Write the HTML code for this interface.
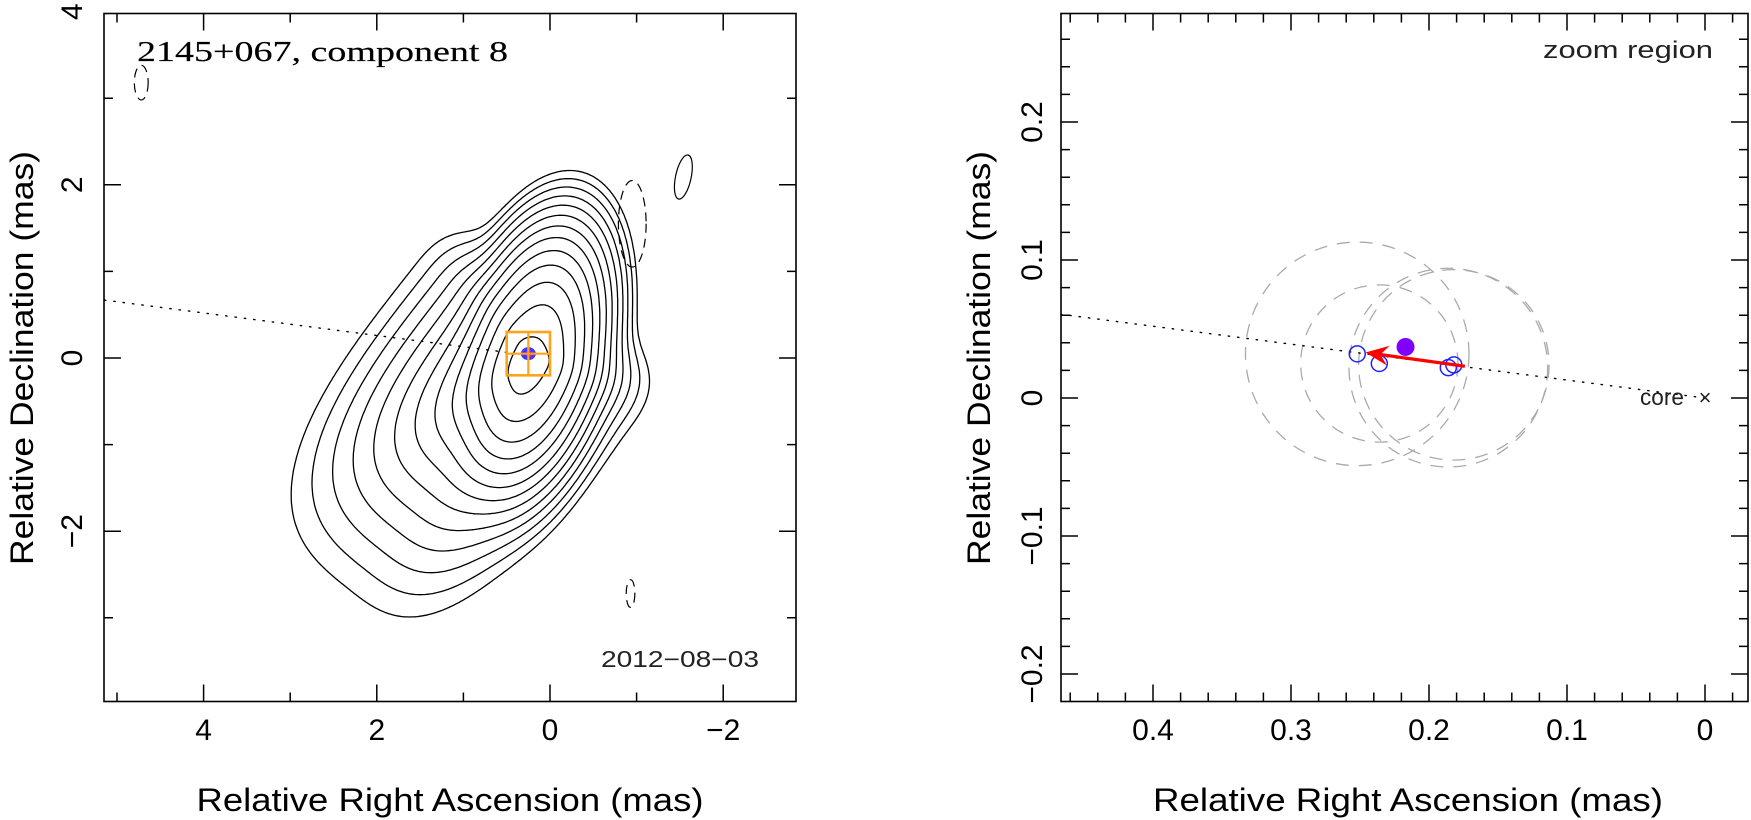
<!DOCTYPE html>
<html><head><meta charset="utf-8">
<style>
html,body{margin:0;padding:0;background:#fff;}
svg{display:block;font-family:"Liberation Sans",sans-serif;}
</style></head>
<body>
<svg id="fig" width="1751" height="820" viewBox="0 0 1751 820" xmlns="http://www.w3.org/2000/svg">
<defs>
<clipPath id="clipL"><rect x="104" y="13.5" width="692" height="688"/></clipPath>
<clipPath id="clipR"><rect x="1061" y="13.5" width="687" height="688"/></clipPath>
</defs>
<g id="left"></g>
<g id="right"></g>
</svg>
<script>
// ---------- data ----------
const coreX = 0.21, coreY = -0.02;
const coreSigMajor = 0.55, coreSigMinor = 0.27;
const jetAmpLog = -0.25;
const jetDirX = 0.62, jetDirY = -0.785;
const jetScaleDown = 0.42, jetScaleUp = 0.12, jetScaleLeft = 0.215, jetScaleRight = 0.17;
const contourLevelsLog = [0,-0.69,-1.39,-2.08,-2.77,-3.47,-4.16,-4.85,-5.55,-6.24,-6.93,-7.62,-8.32];
const negX = [4.72, -0.95, -0.93];
const negY = [3.18, 1.55, -2.72];
const negRX = [0.08, 0.16, 0.05];
const negRY = [0.20, 0.50, 0.16];
const posX = [-1.54];
const posY = [2.09];
const posRX = [0.09];
const posRY = [0.26];
const boxCenterX = 0.25, boxCenterY = 0.05, boxHalf = 0.25;
const leftXTicks = [4,2,0,-2];
const leftXTickLabels = ["4","2","0","\u22122"];
const leftYTicks = [4,2,0,-2];
const leftYTickLabels = ["4","2","0","\u22122"];
// right panel
const compX = [0.252, 0.236, 0.186, 0.182];
const compY = [0.032, 0.025, 0.022, 0.024];
const compSize = [0.081, 0.057, 0.072, 0.069];
const meanX = [0.217], meanY = [0.037];
const arrowFromX = 0.174, arrowFromY = 0.023, arrowToX = 0.246, arrowToY = 0.033;
const paSlope = 0.13;
const rightXTicks = [0.4,0.3,0.2,0.1,0];
const rightXTickLabels = ["0.4","0.3","0.2","0.1","0"];
const rightYTicks = [0.2,0.1,0,-0.1,-0.2];
const rightYTickLabels = ["0.2","0.1","0","\u22120.1","\u22120.2"];

// ---------- helpers ----------
const NS = "http://www.w3.org/2000/svg";
function mk(tag, attrs, parent){
  const e = document.createElementNS(NS, tag);
  for (const k in attrs) e.setAttribute(k, attrs[k]);
  parent.appendChild(e); return e;
}
const L = {x0:104, x1:796, y0:13.5, y1:701.5, xc:550, yc:358, s:86.6};
const R = {x0:1061, x1:1748, y0:13.5, y1:701.5, xc:1705, yc:398, s:1380};
const lx = v => L.xc - v*L.s, ly = v => L.yc - v*L.s;
const rx = v => R.xc - v*R.s, ry = v => R.yc - v*R.s;

function frame(P, g, xmaj, xmin, ymaj, ymin, xf, yf, name){
  const r = mk('rect',{x:P.x0,y:P.y0,width:P.x1-P.x0,height:P.y1-P.y0,fill:'none',stroke:'#000','stroke-width':1.6},g);
  
  
  let d='';
  for (const [arr,len] of [[xmaj,17],[xmin,9]]) for (const v of arr){
    const X=xf(v); if (X<P.x0+1||X>P.x1-1) continue;
    d+=`M${X},${P.y1}v${-len}M${X},${P.y0}v${len}`;
  }
  for (const [arr,len] of [[ymaj,17],[ymin,9]]) for (const v of arr){
    const Y=yf(v); if (Y<P.y0+1||Y>P.y1-1) continue;
    d+=`M${P.x0},${Y}h${len}M${P.x1},${Y}h${-len}`;
  }
  const t=mk('path',{d:d,stroke:'#000','stroke-width':1.5,fill:'none'},g);
  
  
}
function range(a,b,s){const o=[];for(let v=a;v<=b+1e-9;v+=s)o.push(Math.round(v*1000)/1000);return o;}

// ---------- left panel ----------
const gl = document.getElementById('left');
const clipL = mk('g',{'clip-path':'url(#clipL)'},gl);
function field(x,y){
  const dx=x-coreX, dy=y-coreY;
  const m1x=-0.26, m1y=0.966, n1x=0.966, n1y=0.26;
  const s1=dx*m1x+dy*m1y, t1=dx*n1x+dy*n1y;
  const g1=0.5*((s1/coreSigMajor)**2+(t1/coreSigMinor)**2);
  const nX=-jetDirY, nY=jetDirX;
  const s2=dx*jetDirX+dy*jetDirY, t2=dx*nX+dy*nY;
  const sd = s2>0 ? s2/jetScaleDown : s2/jetScaleUp;
  const tt = t2>0 ? t2/jetScaleLeft : t2/jetScaleRight;
  const q2=Math.cbrt(Math.abs(sd)**3+Math.abs(tt)**3);
  return Math.exp(-g1)+Math.exp(jetAmpLog-q2);
}
(function contours(){
  const xa=-3.0, xb=5.3, ya=-4.1, yb=4.1, st=0.03;
  const nx=Math.round((xb-xa)/st)+1, ny=Math.round((yb-ya)/st)+1;
  const F=new Float64Array(nx*ny);
  for(let j=0;j<ny;j++)for(let i=0;i<nx;i++)F[j*nx+i]=field(xa+i*st,ya+j*st);
  contourLevelsLog.forEach((lg,k)=>{
    const lev=Math.exp(lg); let d='';
    for(let j=0;j<ny-1;j++)for(let i=0;i<nx-1;i++){
      const v0=F[j*nx+i],v1=F[j*nx+i+1],v2=F[(j+1)*nx+i+1],v3=F[(j+1)*nx+i];
      const x0=xa+i*st,y0=ya+j*st,pts=[];
      const ed=(va,vb,xa_,ya_,xb_,yb_)=>{ if((va<lev)!==(vb<lev)){const t=(lev-va)/(vb-va);pts.push([xa_+(xb_-xa_)*t,ya_+(yb_-ya_)*t]);}};
      ed(v0,v1,x0,y0,x0+st,y0); ed(v1,v2,x0+st,y0,x0+st,y0+st);
      ed(v2,v3,x0+st,y0+st,x0,y0+st); ed(v3,v0,x0,y0+st,x0,y0);
      for(let p=0;p+1<pts.length;p+=2)
        d+=`M${lx(pts[p][0]).toFixed(1)},${ly(pts[p][1]).toFixed(1)}L${lx(pts[p+1][0]).toFixed(1)},${ly(pts[p+1][1]).toFixed(1)}`;
    }
    const c=mk('path',{d:d,fill:'none',stroke:'#000','stroke-width':1.3,'stroke-linecap':'round'},clipL);
    
    
  });
})();
negX.forEach((v,i)=>{
  const e=mk('ellipse',{cx:lx(v),cy:ly(negY[i]),rx:negRX[i]*L.s,ry:negRY[i]*L.s,fill:'none',stroke:'#000','stroke-width':1.2,'stroke-dasharray':'9 6'},clipL);
  
  
});
posX.forEach((v,i)=>{
  const e=mk('ellipse',{cx:lx(v),cy:ly(posY[i]),rx:posRX[i]*L.s,ry:posRY[i]*L.s,fill:'none',stroke:'#000','stroke-width':1.2,transform:`rotate(12 ${lx(v)} ${ly(posY[i])})`},clipL);
  
  
});
{
  const x2=5.3, x1=boxCenterX+boxHalf;
  const pl=mk('line',{x1:lx(x1),y1:ly(paSlope*x1),x2:lx(x2),y2:ly(paSlope*x2),stroke:'#000','stroke-width':1.4,'stroke-dasharray':'1.4 8','stroke-linecap':'round'},clipL);
  
  
}
{
  const cx=lx(boxCenterX), cy=ly(boxCenterY), h=boxHalf*L.s;
  const b1=mk('ellipse',{cx:cx,cy:cy,rx:7.5,ry:6.5,fill:'#3a3aff'},gl);
  
  
  mk('ellipse',{cx:cx+1,cy:cy,rx:4,ry:3.5,fill:'#a020f0'},gl);
  mk('circle',{cx:cx+2,cy:cy+1,r:1.8,fill:'#ff2020'},gl);
  const bx=mk('rect',{x:cx-h,y:cy-h,width:2*h,height:2*h,fill:'none',stroke:'#ffa31a','stroke-width':2.6},gl);
  
  
  const cr=mk('path',{d:`M${cx-h},${cy}H${cx+h}M${cx},${cy-h}V${cy+h}`,stroke:'#ffa31a','stroke-width':2.2},gl);
  
  
}
frame(L, gl, range(-4,6,2), range(-5,5,1), range(-4,4,2), range(-5,5,1), lx, ly, 'left');
leftXTicks.forEach((v,i)=>{
  const t=mk('text',{x:lx(v),y:740,'font-size':30,'text-anchor':'middle'},gl); t.textContent=leftXTickLabels[i];
  
  
});
leftYTicks.forEach((v,i)=>{
  const t=mk('text',{x:0,y:0,'font-size':30,'text-anchor':'middle',transform:`translate(82,${ly(v)}) rotate(-90)`},gl); t.textContent=leftYTickLabels[i];
  
  
});
{
  let t=mk('text',{x:450,y:811,'font-size':32,'text-anchor':'middle',textLength:507,lengthAdjust:'spacingAndGlyphs'},gl); t.textContent='Relative Right Ascension (mas)';
   
  t=mk('text',{x:0,y:0,'font-size':32,'text-anchor':'middle',textLength:414,lengthAdjust:'spacingAndGlyphs',transform:`translate(33,${L.yc}) rotate(-90)`},gl); t.textContent='Relative Declination (mas)';
   
  t=mk('text',{x:137,y:61,'font-size':28,'font-family':'Liberation Serif, serif',stroke:'#000','stroke-width':0.15,textLength:371,lengthAdjust:'spacingAndGlyphs'},gl); t.textContent='2145+067, component 8';
   
  t=mk('text',{x:601,y:667,'font-size':23,fill:'#222',textLength:158,lengthAdjust:'spacingAndGlyphs'},gl); t.textContent='2012\u221208\u221203';
   
}

// ---------- right panel ----------
const gr=document.getElementById('right');
const clipR=mk('g',{'clip-path':'url(#clipR)'},gr);
compX.forEach((v,i)=>{
  const c=mk('circle',{cx:rx(v),cy:ry(compY[i]),r:compSize[i]*R.s,fill:'none',stroke:'#aaa','stroke-width':1.3,'stroke-dasharray':'13 10'},clipR);
  
  
});
{
  const pl=mk('line',{x1:rx(0),y1:ry(0),x2:rx(0.5),y2:ry(paSlope*0.5),stroke:'#000','stroke-width':1.4,'stroke-dasharray':'1.4 8','stroke-linecap':'round'},clipR);
  
  
}
compX.forEach((v,i)=>{
  const c=mk('circle',{cx:rx(v),cy:ry(compY[i]),r:8,fill:'none',stroke:'#2222ff','stroke-width':1.5},gr);
  
  
});
meanX.forEach((v,i)=>{
  const c=mk('circle',{cx:rx(v),cy:ry(meanY[i]),r:9,fill:'#8000ff'},gr);
  
  
});
{
  const x1=rx(arrowFromX),y1=ry(arrowFromY),x2=rx(arrowToX),y2=ry(arrowToY);
  const dx=x2-x1,dy=y2-y1,l=Math.hypot(dx,dy),ux=dx/l,uy=dy/l,px=-uy,py=ux;
  const a=mk('line',{x1:x1,y1:y1,x2:x2-ux*10,y2:y2-uy*10,stroke:'#ff0000','stroke-width':3.2},gr);
  
  
  const bx=x2-ux*23,by=y2-uy*23;
  const h=mk('polygon',{points:`${x2},${y2} ${bx+px*10},${by+py*10} ${x2-ux*15},${y2-uy*15} ${bx-px*10},${by-py*10}`,fill:'#ff0000'},gr);
  
  
}
frame(R, gr, range(-0.1,0.5,0.1), range(-0.04,0.48,0.02), range(-0.3,0.3,0.1), range(-0.24,0.28,0.02), rx, ry, 'right');
rightXTicks.forEach((v,i)=>{
  const t=mk('text',{x:rx(v),y:740,'font-size':30,'text-anchor':'middle'},gr); t.textContent=rightXTickLabels[i];
  
  
});
rightYTicks.forEach((v,i)=>{
  const t=mk('text',{x:0,y:0,'font-size':30,'text-anchor':'middle',transform:`translate(1042,${ry(v)}) rotate(-90)`},gr); t.textContent=rightYTickLabels[i];
  
  
});
{
  let t=mk('text',{x:1408,y:811,'font-size':32,'text-anchor':'middle',textLength:510,lengthAdjust:'spacingAndGlyphs'},gr); t.textContent='Relative Right Ascension (mas)';
   
  t=mk('text',{x:0,y:0,'font-size':32,'text-anchor':'middle',textLength:414,lengthAdjust:'spacingAndGlyphs',transform:`translate(990,${L.yc}) rotate(-90)`},gr); t.textContent='Relative Declination (mas)';
   
  t=mk('text',{x:1543,y:58,'font-size':24,fill:'#222',textLength:170,lengthAdjust:'spacingAndGlyphs'},gr); t.textContent='zoom region';
   
  t=mk('text',{x:1640,y:405,'font-size':23,fill:'#222',textLength:44,lengthAdjust:'spacingAndGlyphs'},gr); t.textContent='core';
   
  t=mk('text',{x:rx(0),y:ry(0)+7,'font-size':22,'text-anchor':'middle',fill:'#222'},gr); t.textContent='\u00d7';
   
}
</script>
</body></html>
